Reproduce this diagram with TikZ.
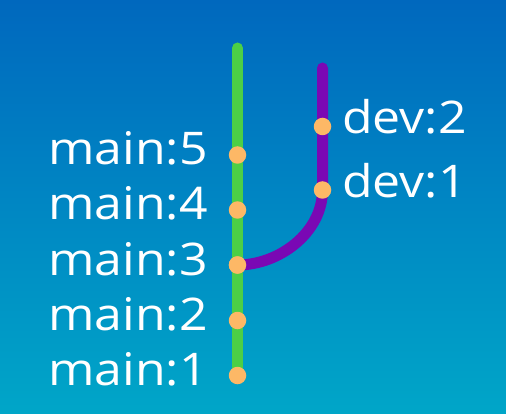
\documentclass[tikz,border=0pt]{standalone}
\usepackage{fontspec}
\setmainfont{Open Sans}
\newfontfamily\lblfont[FakeStretch=1.11]{Open Sans}
\definecolor{bgtop}{HTML}{0068BE}
\definecolor{bgbot}{HTML}{00A6C8}
\definecolor{mainline}{HTML}{4CCF46}
\definecolor{devline}{HTML}{7A08B4}
\definecolor{commit}{HTML}{FDB866}
\tikzset{
  dot/.style={circle, fill=commit, inner sep=0pt, minimum size=17.5pt},
  lbl/.style={text=white, font=\lblfont\fontsize{45}{50}\selectfont, inner sep=0pt},
  branch/.style={line width=11pt, line cap=round},
}
\begin{document}
\begin{tikzpicture}[x=1pt,y=-1pt]
\shade[top color=bgtop, bottom color=bgbot] (0,0) rectangle (506,414);
\useasboundingbox (0,0) rectangle (506,414);
\coordinate (mtop) at (237.5,48);
\coordinate (mbot) at (237.5,376);
\coordinate (dtop) at (322.5,68);
\draw[branch, mainline] (mtop) -- (mbot);
\node[dot] (m1) at (237.5,375.5) {};
\node[dot] (m2) at (237.5,320.5) {};
\node[dot] (m3) at (237.5,265) {};
\node[dot] (m4) at (237.5,210) {};
\node[dot] (m5) at (237.5,155) {};
\coordinate (d1c) at (322.5,190);
\draw[branch, devline] (dtop) -- (d1c) to[out=-90,in=0,looseness=0.95] (m3.center);
\node[dot] (m3b) at (237.5,265) {};
\node[dot] (d1) at (322.5,190) {};
\node[dot] (d2) at (322.5,126.5) {};
\node[lbl, anchor=base east] (l5) at (208,165) {main:5};
\node[lbl, anchor=base east] (l4) at (208,220) {main:4};
\node[lbl, anchor=base east] (l3) at (208,275) {main:3};
\node[lbl, anchor=base east] (l2) at (208,330) {main:2};
\node[lbl, anchor=base east] (l1) at (208,385.5) {main:1};
\node[lbl, anchor=base west] (ld2) at (342,134) {dev:2};
\node[lbl, anchor=base west] (ld1) at (342,197.5) {dev:1};
\end{tikzpicture}
\end{document}
